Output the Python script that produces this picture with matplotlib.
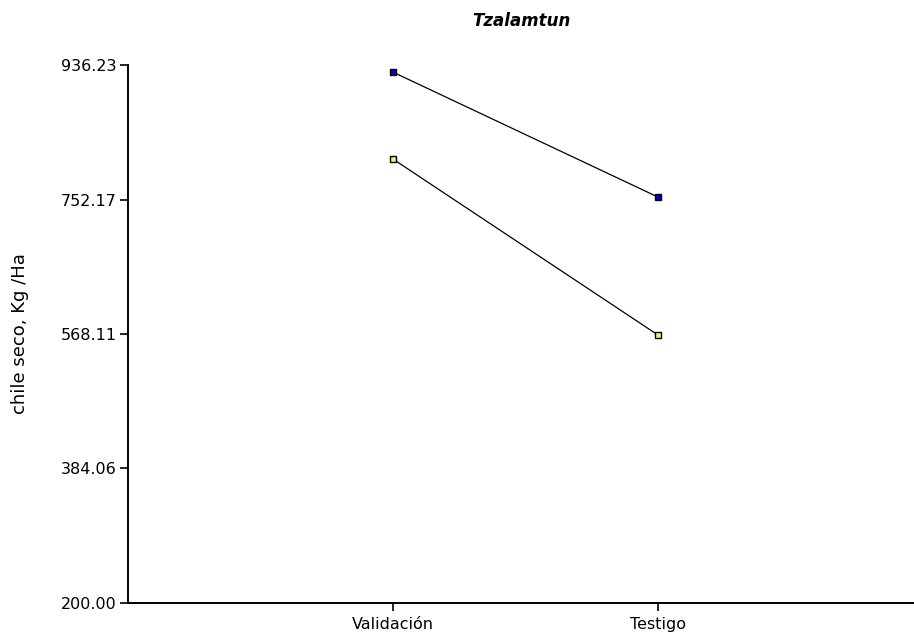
import matplotlib.pyplot as plt

plt.rcParams['font.family'] = ['DejaVu Sans']

# data
categories = ['Validación', 'Testigo']
serie_azul = [926.6, 755.6]
serie_amarilla = [807.6, 566.7]
yticks = [200.00, 384.06, 568.11, 752.17, 936.23]

fig = plt.figure(figsize=(9.14, 6.32), dpi=100)
ax = fig.add_axes([0.140, 0.046, 0.860, 0.851])

xpos = [1, 2]
ax.plot(xpos, serie_azul, color='black', lw=0.9, marker='s', ms=5,
        mfc='#0000d0', mec='black', mew=1.0)
ax.plot(xpos, serie_amarilla, color='black', lw=0.9, marker='s', ms=5,
        mfc='#f4f060', mec='black', mew=1.0)

ax.set_xlim(0, 2.966)
ax.set_ylim(200, 936.23)
ax.set_xticks(xpos)
ax.set_xticklabels(categories)
ax.set_yticks(yticks)
ax.set_yticklabels(['%.2f' % v for v in yticks])

for s in ['top', 'right']:
    ax.spines[s].set_visible(False)
for s in ['left', 'bottom']:
    ax.spines[s].set_linewidth(1.4)
ax.tick_params(axis='both', direction='out', length=6, width=1.2,
               labelsize=11.5, pad=2)
ax.tick_params(axis='x', pad=4)

ax.set_ylabel('chile seco, Kg /Ha', fontsize=13, labelpad=23)
ax.set_title('Tzalamtun', fontsize=12, fontweight='bold', fontstyle='italic', pad=28)

fig.savefig('out.png', dpi=100)
